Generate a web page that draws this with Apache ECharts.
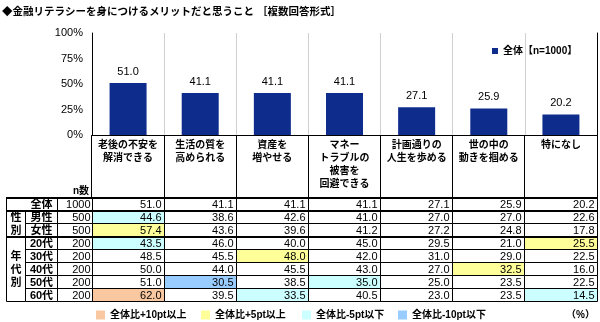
<!DOCTYPE html>
<html><head><meta charset="utf-8">
<script src="https://cdn.jsdelivr.net/npm/echarts@6/dist/echarts.min.js"></script>
<style>html,body{margin:0;padding:0;background:#fff}#c{width:600px;height:322px}</style>
</head><body><div id="c"></div>
<script>
// ---------- data ----------
const categories = ['老後の不安を\n解消できる', '生活の質を\n高められる', '資産を\n増やせる', 'マネー\nトラブルの\n被害を\n回避できる', '計画通りの\n人生を歩める', '世の中の\n動きを掴める', '特になし'];
const seriesName = '全体【n=1000】';
const yTicks = [0, 25, 50, 75, 100];
const rowLabels = ['全体', '男性', '女性', '20代', '30代', '40代', '50代', '60代'];
const nCounts = [1000, 500, 500, 200, 200, 200, 200, 200];
const vAll    = [51.0, 41.1, 41.1, 41.1, 27.1, 25.9, 20.2];
const vMale   = [44.6, 38.6, 42.6, 41.0, 27.0, 27.0, 22.6];
const vFemale = [57.4, 43.6, 39.6, 41.2, 27.2, 24.8, 17.8];
const v20s    = [43.5, 46.0, 40.0, 45.0, 29.5, 21.0, 25.5];
const v30s    = [48.5, 45.5, 48.0, 42.0, 31.0, 29.0, 22.5];
const v40s    = [50.0, 44.0, 45.5, 43.0, 27.0, 32.5, 16.0];
const v50s    = [51.0, 30.5, 38.5, 35.0, 25.0, 23.5, 22.5];
const v60s    = [62.0, 39.5, 33.5, 40.5, 23.0, 23.5, 14.5];
const groupLabels = ['性別', '年代別'];
const groupFirstRow = [1, 3];
const groupLastRow = [2, 7];
const legendNames = ['全体比+10pt以上', '全体比+5pt以上', '全体比-5pt以下', '全体比-10pt以下'];

// ---------- styling ----------
const FONT = 'Liberation Sans, "Noto Sans CJK JP", sans-serif';
const BAR = '#0E2C8C';
const legendColors = ['#F9C8A0', '#FFFF99', '#CCFFFF', '#99CCFF'];
const rows = [vAll, vMale, vFemale, v20s, v30s, v40s, v50s, v60s];
const groupTopRows = [0, 1, 3];

function cellColor(r, c) {
  if (r === 0) return '#fff';
  const d = Math.round((rows[r][c] - vAll[c]) * 10) / 10;
  if (d >= 10) return legendColors[0];
  if (d >= 5) return legendColors[1];
  if (d <= -10) return legendColors[3];
  if (d <= -5) return legendColors[2];
  return '#fff';
}
const px = v => Math.floor(v) + 0.5;

const cellData = [];
rows.forEach((arr, r) => arr.forEach((v, c) => cellData.push([c, r, v])));
const headerData = categories.map((_, i) => [i, 0]);
const labelData = rowLabels.map((_, r) => [0, r]);
const groupData = groupLabels.map((_, g) => [0, groupFirstRow[g], groupLastRow[g], g]);

// label area column splits (px within label grid)
const LBL = [0, 19, 51, 86];
const legendText = { fontSize: 10, fontWeight: 'bold', color: '#000', fontFamily: FONT };

const chart = echarts.init(document.getElementById('c'));
const option = {
  animation: false,
  backgroundColor: '#fff',
  title: {
    text: '◆金融リテラシーを身につけるメリットだと思うこと ［複数回答形式］',
    left: 2, top: 7, padding: 0,
    textStyle: { fontSize: 10.5, fontWeight: 'bold', color: '#000', fontFamily: FONT }
  },
  legend: [
    { data: [seriesName], left: 492, top: 46, padding: 0, icon: 'rect', itemWidth: 6, itemHeight: 6,
      textStyle: legendText, selectedMode: false },
    { data: [legendNames[0]], left: 96, top: 310, padding: 0, icon: 'rect', itemWidth: 9, itemHeight: 9,
      textStyle: legendText, selectedMode: false },
    { data: [legendNames[1]], left: 201, top: 310, padding: 0, icon: 'rect', itemWidth: 9, itemHeight: 9,
      textStyle: legendText, selectedMode: false },
    { data: [legendNames[2]], left: 302, top: 310, padding: 0, icon: 'rect', itemWidth: 9, itemHeight: 9,
      textStyle: legendText, selectedMode: false },
    { data: [legendNames[3]], left: 398, top: 310, padding: 0, icon: 'rect', itemWidth: 9, itemHeight: 9,
      textStyle: legendText, selectedMode: false }
  ],
  graphic: [
    { type: 'text', x: 89, y: 191, style: { text: 'n数', align: 'right', verticalAlign: 'middle', font: 'bold 10px ' + FONT, fill: '#000' } },
    { type: 'text', x: 595, y: 315, style: { text: '（%）', align: 'right', verticalAlign: 'middle', font: 'bold 10px ' + FONT, fill: '#000' } }
  ],
  grid: [
    { left: 92, right: 3, top: 33, height: 102, outerBoundsMode: 'none', containLabel: false },
    { left: 92, right: 3, top: 135, height: 62, outerBoundsMode: 'none', containLabel: false },
    { left: 92, right: 3, top: 197, height: 104, outerBoundsMode: 'none', containLabel: false },
    { left: 6, width: 86, top: 197, height: 104, outerBoundsMode: 'none', containLabel: false }
  ],
  xAxis: [
    { type: 'category', gridIndex: 0, data: categories, z: 2,
      axisLine: { show: true, lineStyle: { color: '#000', width: 1 } },
      axisTick: { show: false },
      splitLine: { show: true, interval: 0, lineStyle: { color: '#D0D0D0', width: 1 } },
      axisLabel: { interval: 0, margin: 4, fontSize: 10, fontWeight: 'bold', lineHeight: 13, color: '#000', fontFamily: FONT, verticalAlign: 'top', hideOverlap: false } },
    { type: 'category', gridIndex: 0, position: 'top', data: categories, z: 5,
      axisLine: { show: true, lineStyle: { color: '#000', width: 1 } },
      axisTick: { show: false }, axisLabel: { show: false }, splitLine: { show: false } },
    { type: 'category', gridIndex: 1, data: categories, show: false },
    { type: 'category', gridIndex: 2, data: categories, show: false },
    { type: 'value', gridIndex: 3, min: 0, max: 86, show: false }
  ],
  yAxis: [
    { type: 'value', gridIndex: 0, min: yTicks[0], max: yTicks[yTicks.length - 1], interval: yTicks[1] - yTicks[0], z: 5,
      axisLine: { show: true, lineStyle: { color: '#000', width: 1 } },
      axisTick: { show: false }, splitLine: { show: false },
      axisLabel: { margin: 9, fontSize: 11, color: '#000', fontFamily: FONT, formatter: '{value}%' } },
    { type: 'value', gridIndex: 0, position: 'right', min: 0, max: 100, z: 5,
      axisLine: { show: true, lineStyle: { color: '#000', width: 1 } },
      axisTick: { show: false }, splitLine: { show: false }, axisLabel: { show: false } },
    { type: 'value', gridIndex: 1, min: 0, max: 1, show: false },
    { type: 'category', gridIndex: 2, data: rowLabels, inverse: true, show: false },
    { type: 'category', gridIndex: 3, data: rowLabels, inverse: true, show: false }
  ],
  series: [
    { name: seriesName, type: 'bar', xAxisIndex: 0, yAxisIndex: 0, data: vAll, barWidth: 37,
      itemStyle: { color: BAR },
      label: { show: true, position: 'top', distance: 6, fontSize: 11, color: '#000', fontFamily: FONT,
        formatter: p => p.value.toFixed(1) } },
    // colour key series (legend only)
    ...legendNames.map((n, i) => ({ name: n, type: 'line', xAxisIndex: 0, yAxisIndex: 0, data: [], itemStyle: { color: legendColors[i] }, lineStyle: { color: legendColors[i] } })),
    // header cells (category label boxes)
    { type: 'custom', xAxisIndex: 2, yAxisIndex: 2, data: headerData, silent: true,
      renderItem: (params, api) => {
        const c = api.value(0);
        const top = api.coord([c, 1]), bot = api.coord([c, 0]);
        const w = api.size([1, 0])[0];
        const x0 = px(top[0] - w / 2), x1 = px(top[0] + w / 2);
        const y0 = px(top[1]), y1 = px(bot[1]);
        return { type: 'rect', shape: { x: x0, y: y0, width: x1 - x0, height: y1 - y0 },
          style: { fill: null, stroke: '#000', lineWidth: 1 } };
      } },
    // value cells
    { type: 'custom', xAxisIndex: 3, yAxisIndex: 3, data: cellData, silent: true,
      renderItem: (params, api) => {
        const c = api.value(0), r = api.value(1), v = api.value(2);
        const p = api.coord([c, r]);
        const s = api.size([1, 1]);
        const x0 = px(p[0] - s[0] / 2), x1 = px(p[0] + s[0] / 2);
        const y0 = px(p[1] - s[1] / 2), y1 = px(p[1] + s[1] / 2);
        const children = [
          { type: 'rect', shape: { x: x0, y: y0, width: x1 - x0, height: y1 - y0 },
            style: { fill: cellColor(r, c), stroke: '#000', lineWidth: 1 } },
          { type: 'text', style: { text: v.toFixed(1), x: x1 - 3, y: (y0 + y1) / 2 + 0.5, align: 'right', verticalAlign: 'middle', font: '11px ' + FONT, fill: '#000' } }
        ];
        if (groupTopRows.indexOf(r) >= 0) {
          children.push({ type: 'line', shape: { x1: x0 - 0.5, y1: y0 + 0.5, x2: x1 + 0.5, y2: y0 + 0.5 }, style: { stroke: '#000', lineWidth: 2 } });
        }
        return { type: 'group', children };
      } },
    // row label + n cells
    { type: 'custom', xAxisIndex: 4, yAxisIndex: 4, data: labelData, silent: true,
      renderItem: (params, api) => {
        const r = api.value(1);
        const p = api.coord([LBL[0], r]);
        const h = api.size([0, 1])[1];
        const xs = LBL.map(v => px(api.coord([v, r])[0]));
        const y0 = px(p[1] - h / 2), y1 = px(p[1] + h / 2);
        const lx0 = r === 0 ? xs[0] : xs[1];
        const yc = (y0 + y1) / 2 + 0.5;
        const children = [
          { type: 'rect', shape: { x: lx0, y: y0, width: xs[2] - lx0, height: y1 - y0 }, style: { fill: '#fff', stroke: '#000', lineWidth: 1 } },
          { type: 'rect', shape: { x: xs[2], y: y0, width: xs[3] - xs[2], height: y1 - y0 }, style: { fill: '#fff', stroke: '#000', lineWidth: 1 } },
          { type: 'text', style: { text: rowLabels[r], x: (xs[1] + xs[2]) / 2, y: yc, align: 'center', verticalAlign: 'middle', font: 'bold 11px ' + FONT, fill: '#000' } },
          { type: 'text', style: { text: String(nCounts[r]), x: xs[3] - 2, y: yc, align: 'right', verticalAlign: 'middle', font: '11px ' + FONT, fill: '#000' } }
        ];
        if (groupTopRows.indexOf(r) >= 0) {
          children.push({ type: 'line', shape: { x1: xs[0] - 0.5, y1: y0 + 0.5, x2: xs[3] + 0.5, y2: y0 + 0.5 }, style: { stroke: '#000', lineWidth: 2 } });
        }
        return { type: 'group', children };
      } },
    // group label cells
    { type: 'custom', xAxisIndex: 4, yAxisIndex: 4, data: groupData, silent: true, z: 3,
      renderItem: (params, api) => {
        const a = api.value(1), b = api.value(2), g = api.value(3);
        const h = api.size([0, 1])[1];
        const pa = api.coord([LBL[0], a]), pb = api.coord([LBL[1], b]);
        const x0 = px(pa[0]), x1 = px(pb[0]);
        const y0 = px(pa[1] - h / 2), y1 = px(pb[1] + h / 2);
        return { type: 'group', children: [
          { type: 'rect', shape: { x: x0, y: y0, width: x1 - x0, height: y1 - y0 }, style: { fill: '#fff', stroke: '#000', lineWidth: 1 } },
          { type: 'line', shape: { x1: x0 - 0.5, y1: y0 + 0.5, x2: x1, y2: y0 + 0.5 }, style: { stroke: '#000', lineWidth: 2 } },
          { type: 'text', style: { text: groupLabels[g].split('').join('\n'), x: (x0 + x1) / 2, y: (y0 + y1) / 2 + 0.5, align: 'center', verticalAlign: 'middle', lineHeight: 13, font: 'bold 11px ' + FONT, fill: '#000' } }
        ] };
      } }
  ]
};
chart.setOption(option);
</script>
</body></html>
